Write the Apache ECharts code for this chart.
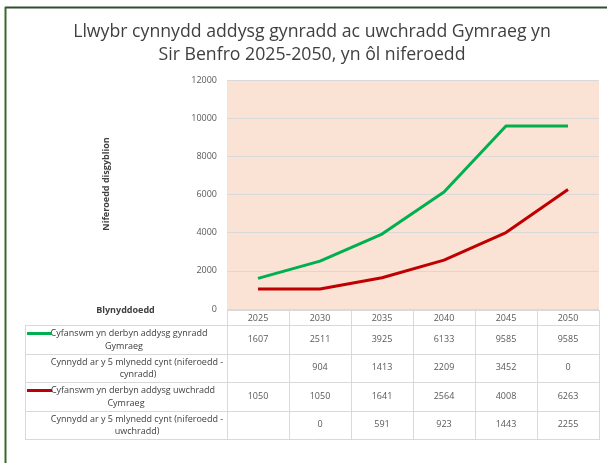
<!DOCTYPE html>
<html><head><meta charset="utf-8">
<script src="https://cdn.jsdelivr.net/npm/echarts@6/dist/echarts.min.js"></script>
<style>html,body{margin:0;padding:0;background:#fff}#c{width:607px;height:463px}</style>
</head><body><div id="c"></div>
<script>
// ---- data ----
const years = ['2025','2030','2035','2040','2045','2050'];
const primaryTotal = [1607, 2511, 3925, 6133, 9585, 9585];
const primaryIncrease = [null, 904, 1413, 2209, 3452, 0];
const secondaryTotal = [1050, 1050, 1641, 2564, 4008, 6263];
const secondaryIncrease = [null, 0, 591, 923, 1443, 2255];
const yMin = 0, yMax = 12000, yInterval = 2000;
const rowLabels = [
  ['Cyfanswm yn derbyn addysg gynradd', 'Gymraeg'],
  ['Cynnydd ar y 5 mlynedd cynt (niferoedd -', 'cynradd)'],
  ['Cyfanswm yn derbyn addysg uwchradd', 'Cymraeg'],
  ['Cynnydd ar y 5 mlynedd cynt (niferoedd -', 'uwchradd)']
];
const tableRows = [primaryTotal, primaryIncrease, secondaryTotal, secondaryIncrease];
const titleLines = ['Llwybr cynnydd addysg gynradd ac uwchradd Gymraeg yn', 'Sir Benfro 2025-2050, yn ôl niferoedd'];
const yName = 'Niferoedd disgyblion';
const xName = 'Blynyddoedd';

// ---- styles / layout ----
const GREEN = '#00B050', RED = '#C00000', GRID = '#D9D9D9', TXT = '#595959';
const FONT = 'Open Sans';
const chart = echarts.init(document.getElementById('c'), null, {renderer: 'canvas'});
const plotTop = 80, plotBottomPx = 309;

chart.setOption({
  animation: false,
  backgroundColor: '#fff',
  title: {
    text: titleLines.join('\n'), left: 307, top: 15, textAlign: 'center',
    textStyle: {fontFamily: FONT, fontSize: 17.7, fontWeight: 'normal', color: '#404040', lineHeight: 23}
  },
  grid: {left: 227, right: 8, top: plotTop, bottom: 463 - plotBottomPx, show: true,
         backgroundColor: '#FAE2D5', borderWidth: 0},
  xAxis: {type: 'category', data: years, boundaryGap: true,
          axisLine: {show: false}, axisTick: {show: false}, axisLabel: {show: false}, splitLine: {show: false}},
  yAxis: {type: 'value', min: yMin, max: yMax, interval: yInterval,
          axisLine: {show: false}, axisTick: {show: false},
          axisLabel: {color: TXT, fontSize: 9, fontFamily: FONT, margin: 10, formatter: v => String(v)},
          splitLine: {lineStyle: {color: GRID, width: 1}}},
  series: [
    {type: 'line', data: primaryTotal, symbol: 'none', lineStyle: {color: GREEN, width: 3}, itemStyle: {color: GREEN}},
    {type: 'line', data: secondaryTotal, symbol: 'none', lineStyle: {color: RED, width: 3}, itemStyle: {color: RED}}
  ]
});

// ---- data table built from the axis scale ----
const centers = years.map((y, i) => chart.convertToPixel({xAxisIndex: 0}, i));
const band = centers[1] - centers[0];
const edges = centers.map(c => c - band / 2).concat([centers[centers.length - 1] + band / 2]);
const tblLeft = 25, hdrTop = 310, hdrBottom = 325, rowH = 28.5;
const rowTops = [0, 1, 2, 3, 4].map(k => hdrBottom + k * rowH);
const g = [];
const line = (x1, y1, x2, y2, stroke, w) => g.push({type: 'line', silent: true,
  shape: {x1, y1, x2, y2}, style: {stroke: stroke || GRID, lineWidth: w || 1}});
const text = (t, x, y, opt) => g.push({type: 'text', silent: true,
  style: Object.assign({text: t, x, y, align: 'center', verticalAlign: 'middle',
    fontSize: 9, fontFamily: FONT, fill: TXT}, opt || {})});

// outer frame
line(5, 7.5, 607, 7.5, '#2f4f2f', 2);
line(5.5, 7, 5.5, 463, '#3b6b2b', 2);

// grid lines of table
const L = tblLeft + 0.5, R = Math.round(edges[edges.length - 1]) + 0.5;
line(Math.round(edges[0]) + 0.5, hdrTop + 0.5, R, hdrTop + 0.5);
rowTops.forEach(t => line(L, Math.round(t) + 0.5, R, Math.round(t) + 0.5));
edges.forEach(e => line(Math.round(e) + 0.5, hdrTop, Math.round(e) + 0.5, rowTops[4] + 1));
line(L, hdrBottom, L, rowTops[4] + 1);

// header years
years.forEach((y, i) => text(y, centers[i], (hdrTop + hdrBottom) / 2 + 0.5));
// values
tableRows.forEach((row, r) => row.forEach((v, i) => {
  if (v !== null) text(String(v), centers[i], rowTops[r] + rowH / 2);
}));
// row labels
const labelCenters = [[129, 124], [137, 138], [133, 126], [137, 137]];
rowLabels.forEach((lines, r) => {
  text(lines[0], labelCenters[r][0], rowTops[r] + 8.5, {fill: '#404040'});
  text(lines[1], labelCenters[r][1], rowTops[r] + 21, {fill: '#404040'});
});
// legend keys
line(tblLeft + 2, rowTops[0] + 8.5, 52, rowTops[0] + 8.5, GREEN, 3);
line(tblLeft + 2, rowTops[2] + 8.5, 52, rowTops[2] + 8.5, RED, 3);

// axis titles
text(xName, 125.5, 310, {fontWeight: 'bold', fill: '#404040'});
g.push({type: 'text', silent: true, x: 106, y: 184, rotation: Math.PI / 2,
  style: {text: yName, align: 'center', verticalAlign: 'middle', fontSize: 9,
          fontWeight: 'bold', fontFamily: FONT, fill: '#404040'}});

chart.setOption({graphic: {elements: g}});
</script></body></html>
